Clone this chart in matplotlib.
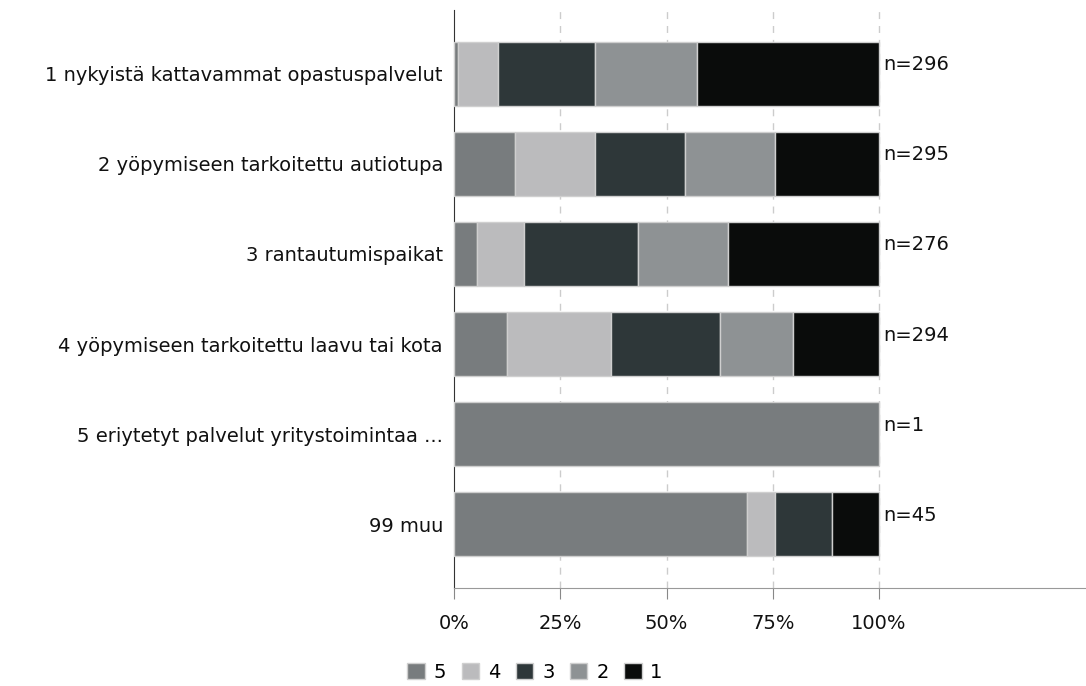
import matplotlib
matplotlib.use("Agg")
import matplotlib.pyplot as plt
from matplotlib.patches import Patch

categories = [
    "1 nykyistä kattavammat opastuspalvelut",
    "2 yöpymiseen tarkoitettu autiotupa",
    "3 rantautumispaikat",
    "4 yöpymiseen tarkoitettu laavu tai kota",
    "5 eriytetyt palvelut yritystoimintaa ...",
    "99 muu",
]
n_labels = ["n=296", "n=295", "n=276", "n=294", "n=1", "n=45"]
series_names = ["5", "4", "3", "2", "1"]
values = {
    "5": [1.0, 14.3, 5.3, 12.5, 100.0, 68.9],
    "4": [9.4, 18.8, 11.2, 24.4, 0.0, 6.7],
    "3": [22.7, 21.2, 26.7, 25.6, 0.0, 13.3],
    "2": [24.0, 21.2, 21.2, 17.3, 0.0, 0.0],
    "1": [42.9, 24.5, 35.6, 20.2, 0.0, 11.1],
}
colors = {"5": "#787c7e", "4": "#bbbbbd", "3": "#2e3739", "2": "#8e9294", "1": "#0a0c0b"}
xticks = [0, 25, 50, 75, 100]
xticklabels = ["0%", "25%", "50%", "75%", "100%"]

FS = 14
plt.rcParams["font.family"] = "DejaVu Sans"
fig = plt.figure(figsize=(10.86, 6.86), dpi=100)
ax = fig.add_axes([454 / 1086, 98 / 686, 632 / 1086, 578 / 686])

y = list(range(len(categories)))
left = [0.0] * len(categories)
for s in series_names:
    vals = values[s]
    ax.barh(y, vals, left=left, height=0.71, color=colors[s],
            edgecolor=["#cfcfcf" if v > 0 else "none" for v in vals],
            linewidth=1.0, zorder=3)
    left = [l + v for l, v in zip(left, vals)]

for i, lab in enumerate(n_labels):
    ax.text(101.0, i - 0.1, lab, va="center", ha="left", fontsize=FS, color="#111111")

ax.set_xlim(0, 148.7)
ax.set_ylim(5.705, -0.705)
ax.set_yticks(y)
ax.set_yticklabels(categories, fontsize=FS, color="#111111")
ax.tick_params(axis="y", length=0, pad=8)
ax.set_xticks(xticks)
ax.set_xticklabels(xticklabels, fontsize=FS, color="#111111")
ax.tick_params(axis="x", length=8, color="#888888", pad=11)
for x in xticks[1:]:
    ax.axvline(x, color="#cccccc", linestyle=(0, (5, 5)), linewidth=1.0, zorder=1)
for side in ["top", "right"]:
    ax.spines[side].set_visible(False)
ax.spines["left"].set_color("#333333")
ax.spines["bottom"].set_color("#999999")

handles = [Patch(facecolor=colors[s], edgecolor="#cfcfcf", label=s) for s in series_names]
fig.legend(handles=handles, loc="center", bbox_to_anchor=(535 / 1086, 14 / 686), ncol=5,
           frameon=False, fontsize=FS, handlelength=0.9, handleheight=0.9,
           handletextpad=0.45, columnspacing=0.8, borderpad=0.2)

fig.savefig("out.png", dpi=100)
